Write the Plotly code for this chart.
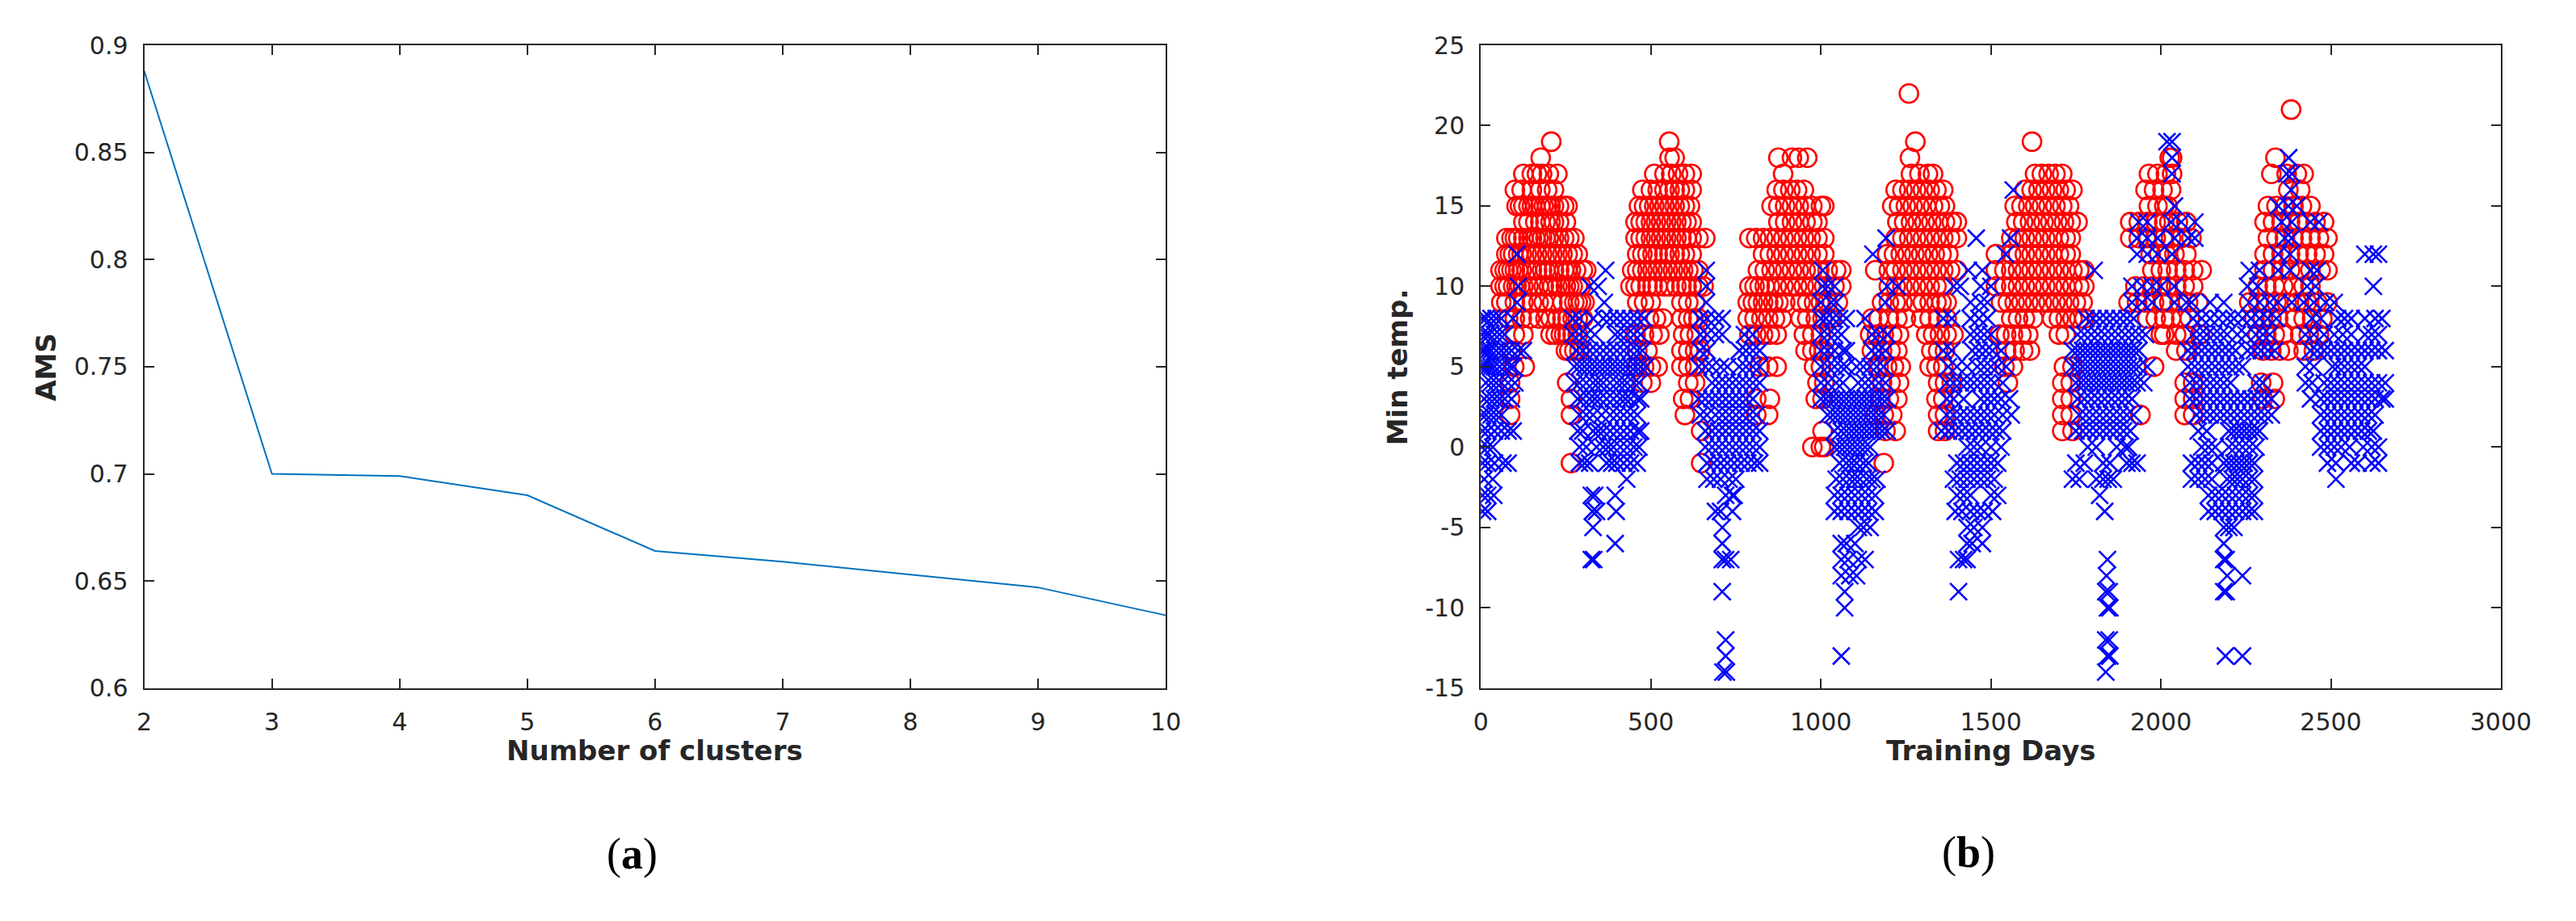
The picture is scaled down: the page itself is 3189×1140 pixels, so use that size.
import plotly.graph_objects as go

# (a) AMS against number of clusters
clusters = [2, 3, 4, 5, 6, 7, 8, 9, 10]
ams = [0.888, 0.700, 0.699, 0.690, 0.664, 0.659, 0.653, 0.647, 0.634]

ams_ticks = [0.6, 0.65, 0.7, 0.75, 0.8, 0.85, 0.9]
ams_labels = ["0.6", "0.65", "0.7", "0.75", "0.8", "0.85", "0.9"]
day_ticks = [0, 500, 1000, 1500, 2000, 2500, 3000]
temp_ticks = [-15, -10, -5, 0, 5, 10, 15, 20, 25]
temp_labels = ["-15", "-10", "-5", "0", "5", "10", "15", "20", "25"]

# (b) min temperature per training day: {temp: [days]}
# red circles = warm cluster, blue crosses = cold cluster
red_1 = {
    19: [207], 18: [176],
    17: [125, 150, 165, 180, 200, 225],
    16: [100, 120, 150, 175, 195, 215],
    15: [105, 115, 125, 140, 150, 160, 175, 185, 195, 205, 215, 230, 245, 255],
    14: [125, 140, 160, 175, 190, 205, 215, 230, 250],
    13: [75, 90, 100, 110, 125, 140, 150, 160, 170, 180, 190, 200, 215, 230, 245, 260, 275],
    12: [75, 85, 95, 110, 120, 135, 150, 165, 180, 195, 210, 225, 240, 255, 270, 285],
    11: [58, 70, 80, 90, 100, 110, 120, 135, 150, 165, 180, 190, 200, 215, 230, 245, 255, 265, 280, 300, 310],
    10: [58, 70, 80, 95, 105, 115, 125, 140, 155, 170, 185, 200, 210, 225, 235, 250, 260, 270, 285, 295],
    9: [60, 75, 100, 125, 150, 170, 185, 210, 240, 260, 275, 285, 295, 305],
    8: [80, 100, 120, 145, 170, 190, 205, 225, 240, 255, 270, 285, 300],
    7: [100, 125, 205, 220, 235, 245, 255, 270, 285],
    6: [90, 250, 260, 275, 290],
    5: [98, 129], 4: [86, 254], 3: [86, 265], 2: [86, 265], -1: [265],
}
red_2 = {
    19: [554], 18: [555, 570],
    17: [510, 540, 560, 580, 600, 620],
    16: [475, 500, 520, 540, 555, 570, 585, 600, 620],
    15: [465, 480, 495, 510, 525, 540, 555, 570, 585, 600, 615],
    14: [455, 470, 485, 500, 515, 530, 545, 560, 575, 590, 605, 620],
    13: [455, 470, 485, 500, 515, 530, 545, 560, 575, 590, 605, 620, 640, 660],
    12: [460, 475, 490, 505, 520, 540, 555, 570, 585, 600, 620],
    11: [445, 460, 475, 490, 505, 520, 535, 550, 565, 580, 595, 610, 625, 640],
    10: [440, 455, 470, 490, 505, 520, 540, 555, 575, 590, 605, 620, 640, 655],
    9: [460, 480, 500, 590, 610, 630],
    8: [495, 515, 535, 590, 610, 625, 640],
    7: [455, 480, 505, 525, 595, 615, 635],
    6: [460, 490, 590, 610, 630, 645],
    5: [460, 480, 500, 520, 590, 610, 630],
    4: [475, 500, 610, 630], 3: [595, 615], 2: [600], 1: [648], -1: [648],
}
red_3 = {
    18: [875, 915, 935, 960], 17: [889],
    16: [870, 890, 910, 930, 950],
    15: [855, 875, 895, 915, 935, 955, 975, 1000, 1010],
    14: [875, 895, 915, 935, 955, 975, 990],
    13: [790, 810, 830, 850, 870, 890, 910, 930, 950, 970, 990, 1010],
    12: [830, 850, 870, 890, 910, 930, 950, 970, 990, 1010],
    11: [815, 835, 855, 875, 895, 915, 935, 955, 975, 995, 1020, 1045, 1060],
    10: [790, 805, 820, 835, 850, 870, 890, 910, 930, 950, 970, 990, 1010, 1040, 1060],
    9: [785, 800, 815, 830, 845, 860, 875, 895, 940, 960, 980, 1000, 1020, 1050],
    8: [785, 805, 825, 845, 865, 885, 940, 960, 985, 1005, 1030],
    7: [790, 810, 830, 850, 870, 950, 975, 1000],
    6: [955, 975, 995, 1010],
    5: [820, 845, 870, 980, 1000],
    4: [990, 1010], 3: [810, 850, 985, 1005], 2: [810, 845], 1: [1005], 0: [975, 1000, 1010],
}
red_4 = {
    22: [1259], 19: [1278], 18: [1262],
    17: [1265, 1290, 1315, 1330],
    16: [1220, 1240, 1260, 1280, 1300, 1320, 1340, 1360],
    15: [1210, 1230, 1250, 1270, 1290, 1310, 1330, 1350, 1365],
    14: [1225, 1245, 1265, 1285, 1305, 1325, 1345, 1365, 1385, 1400],
    13: [1220, 1240, 1260, 1280, 1300, 1320, 1340, 1360, 1380, 1400],
    12: [1195, 1215, 1235, 1255, 1275, 1295, 1315, 1335, 1355, 1375],
    11: [1160, 1200, 1220, 1240, 1260, 1280, 1300, 1320, 1340, 1360, 1380, 1400],
    10: [1200, 1220, 1240, 1260, 1280, 1300, 1320, 1340, 1360],
    9: [1180, 1200, 1220, 1240, 1280, 1300, 1320, 1340, 1355, 1370],
    8: [1150, 1170, 1200, 1225, 1250, 1295, 1320, 1345, 1370],
    7: [1145, 1165, 1185, 1210, 1230, 1310, 1330, 1350, 1370, 1390],
    6: [1150, 1180, 1205, 1225, 1325, 1345, 1365],
    5: [1170, 1195, 1215, 1235, 1320, 1340, 1360],
    4: [1180, 1205, 1230, 1345, 1365, 1385],
    3: [1175, 1200, 1225, 1340, 1360],
    2: [1160, 1185, 1210, 1345, 1365],
    1: [1190, 1220, 1345, 1365], -1: [1185],
}
red_5 = {
    19: [1621],
    17: [1630, 1650, 1670, 1690, 1710],
    16: [1600, 1620, 1640, 1660, 1680, 1700, 1720, 1740],
    15: [1570, 1590, 1610, 1630, 1650, 1670, 1690, 1710, 1730],
    14: [1575, 1595, 1615, 1635, 1655, 1675, 1695, 1715, 1735, 1755],
    13: [1560, 1580, 1600, 1620, 1640, 1660, 1680, 1700, 1720, 1735],
    12: [1515, 1560, 1580, 1600, 1620, 1640, 1660, 1680, 1700, 1720, 1735],
    11: [1515, 1540, 1560, 1580, 1600, 1620, 1640, 1660, 1680, 1700, 1720, 1740, 1760, 1775],
    10: [1515, 1540, 1560, 1580, 1600, 1620, 1640, 1660, 1680, 1700, 1720, 1740, 1760, 1775],
    9: [1530, 1550, 1570, 1590, 1610, 1630, 1650, 1670, 1690, 1710, 1730, 1750, 1770],
    8: [1560, 1580, 1600, 1625, 1680, 1700, 1720, 1740, 1760, 1775],
    7: [1525, 1545, 1565, 1590, 1610, 1700, 1720],
    6: [1545, 1570, 1595, 1615],
    5: [1540, 1565, 1715, 1740],
    4: [1550, 1710, 1735], 3: [1710, 1735], 2: [1710, 1735], 1: [1710, 1740],
}
red_6 = {
    18: [2026, 2033],
    17: [1965, 1990, 2015, 2033],
    16: [1955, 1980, 2005, 2030],
    15: [1965, 1990, 2010, 2020],
    14: [1910, 1935, 1960, 1985, 2010, 2025, 2050, 2075],
    13: [1910, 1935, 1960, 1985, 2010, 2030, 2060, 2090],
    12: [1970, 1995, 2015, 2040, 2075],
    11: [1975, 2000, 2020, 2045, 2070, 2095, 2120],
    10: [1925, 1950, 1975, 2000, 2020, 2045, 2070, 2095],
    9: [1905, 1930, 1955, 1980, 2005, 2025, 2055, 2080, 2110],
    8: [1960, 1985, 2010, 2030, 2060, 2085],
    7: [2000, 2010, 2045, 2070, 2115],
    6: [2045, 2075], 5: [1980], 4: [2070, 2095], 3: [2070, 2095], 2: [1940, 2070, 2095],
}
red_7 = {
    21: [2383], 18: [2337],
    17: [2325, 2370, 2400, 2420],
    16: [2375, 2410],
    15: [2315, 2340, 2365, 2390, 2415, 2440],
    14: [2305, 2330, 2355, 2380, 2405, 2430, 2455, 2480],
    13: [2315, 2340, 2365, 2390, 2415, 2440, 2465, 2490],
    12: [2305, 2330, 2355, 2380, 2405, 2430, 2455, 2480],
    11: [2305, 2330, 2355, 2380, 2410, 2440, 2470, 2490],
    10: [2285, 2310, 2335, 2360, 2390, 2420, 2440],
    9: [2260, 2285, 2310, 2340, 2370, 2400, 2430, 2460, 2490],
    8: [2275, 2300, 2325, 2345, 2395, 2420, 2445, 2475],
    7: [2285, 2310, 2335, 2360, 2410, 2435, 2465],
    6: [2300, 2325, 2350, 2375, 2420, 2450],
    4: [2295, 2330], 3: [2300, 2335],
}

blue_1 = {
    12: [106], 10: [110], 9: [106],
    8: [5, 15, 30, 45, 60, 94],
    7: [3, 15, 25, 40, 55, 70],
    6: [3, 10, 20, 30, 45, 60, 75, 90, 110, 125],
    5: [2, 10, 20, 30, 40, 55, 70, 85, 95],
    4: [15, 30, 45, 60, 80, 100],
    3: [10, 25, 40, 55, 70, 90],
    2: [3, 15, 30, 45, 60],
    1: [5, 20, 40, 60, 80, 95],
    0: [3, 20, 35],
    -1: [5, 20, 40, 65, 80],
    -2: [10, 35], -3: [5, 20, 38], -4: [5, 20],
}
blue_2 = {
    11: [367], 10: [320, 345], 9: [363],
    8: [270, 290, 330, 360, 380, 400, 420, 440, 460, 480],
    7: [270, 290, 310, 335, 395, 410, 430, 450, 470],
    6: [280, 300, 320, 340, 360, 380, 400, 420, 440, 460, 475],
    5: [275, 290, 305, 320, 335, 350, 365, 380, 395, 410, 425, 440, 455, 470, 485],
    4: [275, 290, 310, 330, 345, 360, 380, 400, 415, 430, 450, 465],
    3: [285, 300, 320, 335, 350, 370, 390, 410, 425, 440, 460, 470],
    2: [290, 310, 330, 355, 380, 400, 420, 440, 460],
    1: [285, 300, 330, 345, 360, 380, 400, 420, 440, 460, 470],
    0: [290, 310, 340, 360, 375, 390, 410, 430, 450, 465],
    -1: [290, 305, 320, 370, 385, 400, 420, 440, 460],
    -2: [429], -3: [325, 335, 395], -4: [328, 340, 398],
    -5: [330], -6: [395], -7: [325, 332],
}
blue_3 = {
    11: [663], 10: [663], 9: [663],
    8: [645, 665, 690, 710],
    7: [645, 665, 690, 710, 775, 800],
    6: [645, 665, 760, 780, 800, 820],
    5: [640, 660, 680, 705, 725, 760, 780, 800, 820],
    4: [680, 700, 720, 740, 760, 780, 800, 820],
    3: [640, 660, 680, 700, 720, 740, 760, 780, 800],
    2: [645, 665, 690, 710, 730, 750, 770, 790, 810],
    1: [660, 680, 700, 720, 740, 760, 780, 800, 820],
    0: [660, 680, 700, 720, 740, 760, 780, 800, 820],
    -1: [665, 685, 705, 725, 745, 765, 785, 805, 820],
    -2: [665, 685, 705, 730, 750],
    -3: [720, 740, 745], -4: [690, 705, 740],
    -5: [710], -6: [710], -7: [710, 720, 735], -9: [710],
    -12: [720], -13: [720], -14: [712, 722],
}
blue_4 = {
    13: [1192], 12: [1153], 11: [1005],
    10: [1005, 1020, 1040, 1195, 1225],
    9: [1000, 1030, 1045, 1190],
    8: [1000, 1015, 1035, 1055, 1075, 1130],
    7: [1000, 1020, 1040, 1060, 1150, 1170, 1195],
    6: [1000, 1020, 1040, 1065, 1075, 1150, 1170, 1190],
    5: [1000, 1020, 1040, 1060, 1075, 1105, 1125, 1145, 1165, 1185],
    4: [1000, 1020, 1045, 1065, 1110, 1130, 1150, 1170, 1190],
    3: [1000, 1015, 1030, 1045, 1060, 1075, 1090, 1105, 1120, 1135, 1150, 1165, 1180, 1195],
    2: [1020, 1035, 1050, 1065, 1080, 1095, 1110, 1125, 1140, 1155, 1170, 1185],
    1: [1040, 1060, 1075, 1090, 1105, 1120, 1135, 1150, 1165, 1180, 1195],
    0: [1040, 1055, 1070, 1085, 1100, 1115, 1130, 1145],
    -1: [1055, 1075, 1090, 1105, 1125, 1140],
    -2: [1045, 1065, 1085, 1100, 1115, 1135, 1150, 1165],
    -3: [1040, 1060, 1080, 1100, 1120, 1140, 1160],
    -4: [1040, 1060, 1080, 1100, 1120, 1140, 1160],
    -5: [1110, 1125, 1145], -6: [1060, 1075, 1100],
    -7: [1060, 1080, 1110, 1130], -8: [1060, 1085, 1105],
    -9: [1070], -10: [1070], -13: [1060],
}
blue_5 = {
    16: [1566], 13: [1457, 1558], 12: [1543], 11: [1434, 1475],
    10: [1390, 1410, 1470, 1500],
    9: [1440, 1470, 1490],
    8: [1360, 1385, 1440, 1465, 1490],
    7: [1440, 1460, 1480, 1500],
    6: [1360, 1385, 1445, 1465, 1485, 1505, 1530],
    5: [1375, 1400, 1430, 1460, 1480, 1500, 1520, 1545],
    4: [1370, 1390, 1410, 1430, 1450, 1470, 1490, 1510, 1535],
    3: [1370, 1390, 1420, 1470, 1490, 1510, 1530, 1555],
    2: [1370, 1390, 1410, 1430, 1450, 1470, 1490, 1510, 1535, 1560],
    1: [1355, 1375, 1395, 1415, 1435, 1455, 1475, 1495, 1515, 1535],
    0: [1430, 1450, 1470, 1500, 1530],
    -1: [1400, 1420, 1440, 1460, 1480, 1500, 1520],
    -2: [1390, 1410, 1430, 1450, 1470, 1490, 1510],
    -3: [1400, 1420, 1440, 1500, 1520],
    -4: [1395, 1415, 1440, 1460, 1480, 1505],
    -5: [1430, 1450, 1475], -6: [1430, 1445, 1475],
    -7: [1405, 1420, 1430], -9: [1405],
}
blue_6 = {
    19: [2018], 14: [1935, 1960],
    13: [1930, 1960, 1990], 12: [1930, 1960, 1990], 11: [1804],
    10: [1915, 1945, 1975, 2000],
    9: [1915, 1945, 1975],
    8: [1780, 1800, 1820, 1840, 1860, 1880, 1900, 1920],
    7: [1755, 1775, 1795, 1815, 1835, 1855, 1875, 1895, 1915, 1935, 1955],
    6: [1740, 1755, 1770, 1785, 1800, 1815, 1830, 1845, 1860, 1875, 1890, 1905, 1920, 1935],
    5: [1740, 1755, 1770, 1785, 1800, 1815, 1830, 1845, 1860, 1875, 1890, 1905, 1920, 1935, 1960],
    4: [1750, 1765, 1780, 1795, 1810, 1825, 1840, 1855, 1870, 1885, 1900, 1915, 1930, 1950],
    3: [1755, 1775, 1795, 1815, 1835, 1855, 1875, 1895, 1915],
    2: [1760, 1780, 1800, 1820, 1840, 1860, 1880, 1900, 1920],
    1: [1750, 1770, 1790, 1810, 1830, 1850, 1870, 1890, 1910],
    0: [1785, 1810, 1870, 1895, 1905],
    -1: [1750, 1775, 1830, 1850, 1900, 1915, 1930],
    -2: [1740, 1760, 1810, 1830, 1845, 1860],
    -3: [1820], -4: [1835], -7: [1843], -8: [1840],
    -9: [1838, 1848], -10: [1843, 1850], -12: [1838, 1848],
    -13: [1843, 1850], -14: [1838],
}
blue_7 = {
    19: [2033], 18: [2033], 17: [2033], 15: [2040],
    14: [2030, 2060, 2100], 13: [2040, 2080, 2100], 12: [2033],
    11: [2260, 2290], 10: [2040, 2255, 2285],
    9: [2040, 2075, 2090, 2145, 2185, 2260, 2290, 2320],
    8: [2095, 2120, 2145, 2170, 2195, 2215, 2240, 2265, 2290, 2315, 2340],
    7: [2095, 2115, 2135, 2155, 2175, 2195, 2225, 2250, 2280, 2300, 2320],
    6: [2080, 2100, 2120, 2140, 2160, 2180, 2200, 2220, 2255, 2275, 2295, 2315, 2335],
    5: [2080, 2100, 2120, 2140, 2160, 2180, 2200, 2220, 2240],
    4: [2085, 2105, 2125, 2145, 2165, 2185, 2205, 2280, 2300],
    3: [2085, 2105, 2125, 2145, 2165, 2185, 2205, 2225, 2245, 2265, 2285, 2305, 2325],
    2: [2105, 2125, 2145, 2165, 2185, 2205, 2225, 2245, 2265, 2285, 2305, 2325],
    1: [2110, 2135, 2200, 2215, 2230, 2245, 2260, 2275, 2290],
    0: [2120, 2140, 2160, 2200, 2220, 2240, 2260, 2280],
    -1: [2090, 2110, 2130, 2150, 2185, 2200, 2215, 2230, 2245, 2260, 2275],
    -2: [2090, 2110, 2130, 2150, 2195, 2210, 2225, 2240, 2260, 2275],
    -3: [2140, 2160, 2180, 2200, 2220, 2240, 2260, 2275],
    -4: [2140, 2160, 2180, 2200, 2220, 2240, 2260, 2275],
    -5: [2185, 2200, 2215], -6: [2185], -7: [2185, 2192],
    -8: [2195, 2240], -9: [2185, 2192], -13: [2190, 2240],
}
blue_8 = {
    18: [2376], 17: [2370, 2385], 16: [2383],
    15: [2345, 2375, 2400],
    14: [2355, 2385, 2440, 2465],
    13: [2365, 2385],
    12: [2345, 2380, 2600, 2625, 2640],
    11: [2345, 2380, 2440, 2460],
    10: [2430, 2455, 2625],
    9: [2345, 2385, 2420, 2450, 2485, 2510],
    8: [2445, 2470, 2520, 2540, 2560, 2600, 2630, 2650],
    7: [2425, 2450, 2480, 2510, 2535, 2560, 2600, 2620, 2640],
    6: [2440, 2460, 2480, 2500, 2520, 2540, 2560, 2580, 2600, 2620, 2640, 2660],
    5: [2425, 2450, 2505, 2520, 2540, 2560, 2580, 2600],
    4: [2425, 2445, 2480, 2500, 2520, 2540, 2560, 2580, 2600, 2620, 2640, 2660],
    3: [2440, 2470, 2490, 2510, 2530, 2550, 2570, 2590, 2610, 2630, 2650, 2660],
    2: [2470, 2490, 2510, 2530, 2550, 2570, 2590, 2610, 2630],
    1: [2470, 2490, 2510, 2530, 2550, 2570, 2590, 2610, 2625],
    0: [2470, 2490, 2510, 2530, 2555, 2595, 2620, 2640],
    -1: [2490, 2515, 2560, 2580, 2620, 2640],
    -2: [2515],
}


def flatten(segments):
    xs, ys = [], []
    for seg in segments:
        for t, days in seg.items():
            xs += days
            ys += [t] * len(days)
    return xs, ys


red_x, red_y = flatten([red_1, red_2, red_3, red_4, red_5, red_6, red_7])
blue_x, blue_y = flatten([blue_1, blue_2, blue_3, blue_4, blue_5, blue_6, blue_7, blue_8])

W, H = 3189, 1140
ink = "#262626"
tickfont = dict(family="DejaVu Sans", size=30, color=ink)

fig = go.Figure()
fig.add_trace(go.Scatter(x=clusters, y=ams, mode="lines",
                         line=dict(color="#0072BD", width=2),
                         xaxis="x", yaxis="y", showlegend=False))
fig.add_trace(go.Scatter(x=red_x, y=red_y, mode="markers",
                         marker=dict(symbol="circle-open", size=23, color="#FF0000",
                                     line=dict(width=2.6, color="#FF0000")),
                         xaxis="x2", yaxis="y2", showlegend=False))
fig.add_trace(go.Scatter(x=blue_x, y=blue_y, mode="markers",
                         marker=dict(symbol="x-thin-open", size=21, color="#0000FF",
                                     line=dict(width=2.6, color="#0000FF")),
                         xaxis="x2", yaxis="y2", showlegend=False))

axis_style = dict(showline=True, linecolor=ink, linewidth=2, mirror="ticks",
                  ticks="inside", ticklen=12, tickwidth=2, tickcolor=ink,
                  showgrid=False, zeroline=False, tickfont=tickfont)

ydom = [1 - 853 / H, 1 - 32 / H]
fig.update_layout(
    width=W, height=H,
    margin=dict(l=0, r=0, t=0, b=0),
    paper_bgcolor="white", plot_bgcolor="white",
    xaxis=dict(domain=[163 / W, 1447 / W], range=[2, 10], dtick=1,
               ticklabelstandoff=14, anchor="y", **axis_style),
    yaxis=dict(domain=ydom, range=[0.6, 0.9], tickvals=ams_ticks, ticktext=ams_labels,
               ticklabelstandoff=12, anchor="x", **axis_style),
    xaxis2=dict(domain=[1843 / W, 3125 / W], range=[0, 3000], tickvals=day_ticks,
                ticklabelstandoff=14, anchor="y2", **axis_style),
    yaxis2=dict(domain=ydom, range=[-15, 25], tickvals=temp_ticks, ticktext=temp_labels,
                ticklabelstandoff=12, anchor="x2", **axis_style),
)

title_font = dict(family="DejaVu Sans", size=34, color=ink)
notes = [
    dict(text="<b>Number of clusters</b>", x=805, y=933, font=title_font, textangle=0),
    dict(text="<b>Training Days</b>", x=2484, y=933, font=title_font, textangle=0),
    dict(text="<b>AMS</b>", x=40, y=443, font=title_font, textangle=-90),
    dict(text="<b>Min temp.</b>", x=1739, y=443, font=title_font, textangle=-90),
    dict(text="(<b>a</b>)", x=776, y=1065,
         font=dict(family="Liberation Serif", size=54, color="black"), textangle=0),
    dict(text="(<b>b</b>)", x=2456, y=1063,
         font=dict(family="Liberation Serif", size=54, color="black"), textangle=0),
]
for n in notes:
    fig.add_annotation(text=n["text"], x=n["x"] / W, y=1 - n["y"] / H,
                       xref="paper", yref="paper", xanchor="center", yanchor="middle",
                       showarrow=False, font=n["font"], textangle=n["textangle"])

fig.write_html("out.html")
